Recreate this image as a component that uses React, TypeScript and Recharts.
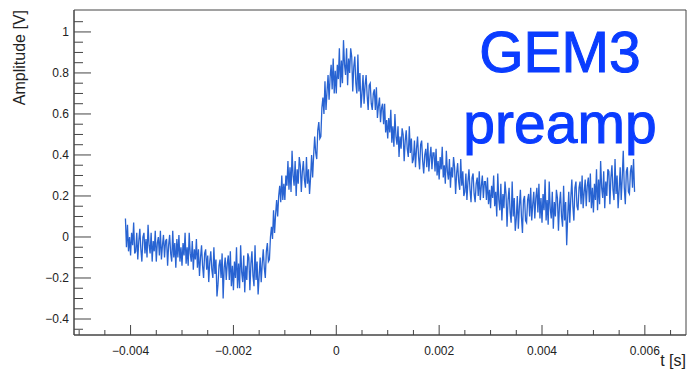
import { LineChart, Line, XAxis, YAxis, ReferenceArea } from 'recharts'

// sampling of the scope trace
const T0 = -0.0041
const DT = 0.00002

// amplitude [V], 10 samples per 0.0002 s
const amplitude = [
  0.09, -0.05, 0.06, -0.07, 0.00, -0.09, 0.02, -0.04, 0.07, -0.08,
  -0.07, 0.02, -0.11, -0.02, 0.04, -0.06, -0.12, 0.00, 0.02, -0.08,
  -0.01, -0.10, 0.06, -0.04, -0.08, 0.02, -0.12, -0.02, -0.07, 0.03,
  -0.12, -0.03, 0.00, -0.09, 0.03, -0.11, -0.04, 0.01, -0.10, -0.02,
  -0.01, -0.14, -0.04, 0.01, -0.08, -0.12, 0.03, -0.10, -0.03, -0.15,
  -0.01, -0.10, 0.01, -0.12, -0.05, -0.14, -0.03, -0.09, 0.02, -0.13,
  -0.05, -0.14, 0.02, -0.08, -0.12, -0.02, -0.16, -0.06, -0.11, -0.01,
  -0.15, -0.06, -0.19, -0.10, -0.04, -0.14, -0.20, -0.08, -0.06, -0.16,
  -0.09, -0.22, -0.12, -0.07, -0.16, -0.20, -0.05, -0.18, -0.11, -0.29,
  -0.23, -0.14, -0.11, -0.20, -0.08, -0.30, -0.15, -0.10, -0.21, -0.13,
  -0.09, -0.21, -0.07, -0.24, -0.14, -0.26, -0.12, -0.20, -0.05, -0.25,
  -0.13, -0.25, -0.04, -0.17, -0.22, -0.09, -0.27, -0.14, -0.21, -0.08,
  -0.10, -0.26, -0.13, -0.07, -0.19, -0.24, -0.04, -0.21, -0.12, -0.28,
  -0.19, -0.10, -0.22, -0.13, -0.06, -0.15, -0.20, -0.07, -0.03, -0.12,
  -0.11, 0.00, 0.05, -0.01, 0.13, 0.02, 0.11, 0.18, 0.10, 0.20,
  0.25, 0.17, 0.30, 0.18, 0.26, 0.18, 0.30, 0.25, 0.37, 0.23,
  0.34, 0.22, 0.42, 0.30, 0.25, 0.37, 0.20, 0.33, 0.26, 0.39,
  0.35, 0.22, 0.32, 0.37, 0.28, 0.24, 0.39, 0.26, 0.33, 0.21,
  0.29, 0.40, 0.29, 0.40, 0.49, 0.41, 0.38, 0.52, 0.56, 0.48,
  0.49, 0.63, 0.68, 0.60, 0.76, 0.62, 0.71, 0.79, 0.67, 0.78,
  0.84, 0.72, 0.87, 0.70, 0.81, 0.70, 0.84, 0.77, 0.92, 0.73,
  0.86, 0.75, 0.96, 0.84, 0.79, 0.92, 0.74, 0.87, 0.80, 0.92,
  0.88, 0.71, 0.83, 0.88, 0.75, 0.70, 0.89, 0.71, 0.80, 0.63,
  0.70, 0.79, 0.65, 0.74, 0.79, 0.69, 0.62, 0.74, 0.75, 0.65,
  0.62, 0.70, 0.72, 0.62, 0.73, 0.58, 0.64, 0.68, 0.56, 0.63,
  0.65, 0.55, 0.65, 0.51, 0.57, 0.48, 0.58, 0.51, 0.62, 0.46,
  0.54, 0.44, 0.60, 0.49, 0.45, 0.54, 0.39, 0.49, 0.43, 0.53,
  0.50, 0.37, 0.47, 0.52, 0.43, 0.39, 0.54, 0.41, 0.48, 0.36,
  0.38, 0.47, 0.34, 0.43, 0.49, 0.39, 0.33, 0.45, 0.47, 0.37,
  0.31, 0.40, 0.43, 0.34, 0.46, 0.32, 0.39, 0.44, 0.33, 0.41,
  0.41, 0.32, 0.43, 0.30, 0.37, 0.28, 0.39, 0.33, 0.44, 0.29,
  0.35, 0.26, 0.42, 0.32, 0.28, 0.38, 0.24, 0.34, 0.29, 0.39,
  0.34, 0.21, 0.31, 0.36, 0.27, 0.23, 0.38, 0.25, 0.32, 0.20,
  0.22, 0.31, 0.18, 0.27, 0.33, 0.23, 0.17, 0.29, 0.31, 0.21,
  0.17, 0.26, 0.29, 0.20, 0.32, 0.18, 0.25, 0.30, 0.19, 0.27,
  0.27, 0.18, 0.29, 0.16, 0.23, 0.14, 0.25, 0.19, 0.30, 0.15,
  0.22, 0.10, 0.31, 0.18, 0.13, 0.26, 0.08, 0.21, 0.14, 0.27,
  0.21, 0.05, 0.18, 0.24, 0.12, 0.07, 0.27, 0.10, 0.19, 0.03,
  0.09, 0.20, 0.04, 0.15, 0.23, 0.10, 0.02, 0.18, 0.20, 0.08,
  0.07, 0.18, 0.21, 0.10, 0.24, 0.08, 0.16, 0.22, 0.09, 0.19,
  0.24, 0.12, 0.26, 0.09, 0.19, 0.07, 0.21, 0.13, 0.28, 0.08,
  0.18, 0.06, 0.27, 0.14, 0.09, 0.22, 0.04, 0.17, 0.10, 0.23,
  0.19, 0.03, 0.16, 0.22, 0.10, 0.05, 0.25, 0.08, 0.17, -0.04,
  0.10, 0.22, 0.07, 0.19, 0.28, 0.15, 0.08, 0.24, 0.27, 0.15,
  0.13, 0.24, 0.27, 0.16, 0.30, 0.14, 0.22, 0.28, 0.15, 0.25,
  0.29, 0.17, 0.31, 0.14, 0.24, 0.12, 0.26, 0.18, 0.33, 0.13,
  0.28, 0.16, 0.37, 0.24, 0.19, 0.32, 0.14, 0.27, 0.20, 0.33,
  0.32, 0.16, 0.29, 0.35, 0.23, 0.18, 0.38, 0.21, 0.30, 0.14,
  0.23, 0.34, 0.18, 0.29, 0.42, 0.24, 0.16, 0.32, 0.34, 0.22,
  0.21, 0.32, 0.35, 0.24, 0.38, 0.22,
]

const xMajorTicks = [-0.004, -0.002, 0, 0.002, 0.004, 0.006]
const xMinorTicks = [-0.005, -0.0045, -0.0035, -0.003, -0.0025, -0.0015, -0.001, -0.0005,
  0.0005, 0.001, 0.0015, 0.0025, 0.003, 0.0035, 0.0045, 0.005, 0.0055, 0.0065]
const yMajorTicks = [-0.4, -0.2, 0, 0.2, 0.4, 0.6, 0.8, 1]
const yMinorTicks = [-0.45, -0.35, -0.3, -0.25, -0.15, -0.1, -0.05, 0.05, 0.1, 0.15,
  0.25, 0.3, 0.35, 0.45, 0.5, 0.55, 0.65, 0.7, 0.75, 0.85, 0.9, 0.95, 1.05]

const X_DOMAIN: [number, number] = [-0.0051, 0.0068]
const Y_DOMAIN: [number, number] = [-0.478, 1.107]

const data = amplitude.map((v, i) => ({ t: T0 + i * DT, v }))

const AXIS = '#444'
const FONT = '"Liberation Sans", Arial, sans-serif'

const fmt = (v: number) => (v < 0 ? '\u2212' + String(-v) : String(v))

const XTick = (props: any) => {
  const { x, y, payload } = props
  const major = xMajorTicks.includes(payload.value)
  return (
    <g>
      <line x1={x} x2={x} y1={y} y2={y - (major ? 10 : 5)} stroke={AXIS} />
      {major && (
        <text x={x} y={y + 20} textAnchor="middle" fontSize={12} fill="#222" fontFamily={FONT}>
          {fmt(payload.value)}
        </text>
      )}
    </g>
  )
}

const YTick = (props: any) => {
  const { x, y, payload } = props
  const major = yMajorTicks.includes(payload.value)
  return (
    <g>
      <line x1={x} x2={x + (major ? 17 : 9)} y1={y} y2={y} stroke={AXIS} />
      {major && (
        <text x={x - 5} y={y + 4} textAnchor="end" fontSize={12} fill="#222" fontFamily={FONT}>
          {fmt(payload.value)}
        </text>
      )}
    </g>
  )
}

export default function App() {
  return (
    <div style={{ position: 'relative', width: 688, height: 372, background: '#fff' }}>
      <style>{'body{margin:0}'}</style>
      <LineChart width={688} height={372} data={data} margin={{ top: 10, right: 2, bottom: 7, left: 14 }}>
        <XAxis
          dataKey="t"
          type="number"
          domain={X_DOMAIN}
          allowDataOverflow
          ticks={[...xMinorTicks, ...xMajorTicks].sort((a, b) => a - b)}
          interval={0}
          tick={<XTick />}
          tickLine={false}
          tickSize={0}
          tickMargin={0}
          height={30}
          stroke={AXIS}
        />
        <YAxis
          type="number"
          domain={Y_DOMAIN}
          allowDataOverflow
          ticks={[...yMinorTicks, ...yMajorTicks].sort((a, b) => a - b)}
          interval={0}
          tick={<YTick />}
          tickLine={false}
          tickSize={0}
          tickMargin={0}
          width={60}
          stroke={AXIS}
        />
        <ReferenceArea
          x1={X_DOMAIN[0]}
          x2={X_DOMAIN[1]}
          y1={Y_DOMAIN[0]}
          y2={Y_DOMAIN[1]}
          fill="none"
          stroke={AXIS}
          fillOpacity={0}
        />
        <Line
          type="linear"
          dataKey="v"
          stroke="#2863d2"
          strokeWidth={1.3}
          dot={false}
          isAnimationActive={false}
        />
      </LineChart>
      <svg
        width={688}
        height={372}
        style={{ position: 'absolute', left: 0, top: 0, pointerEvents: 'none' }}
      >
        <text
          x={25}
          y={10}
          transform="rotate(-90 25 10)"
          textAnchor="end"
          fontSize={16}
          fill="#222"
          fontFamily={FONT}
        >
          Amplitude [V]
        </text>
        <text x={686} y={366} textAnchor="end" fontSize={16} fill="#222" fontFamily={FONT}>
          t [s]
        </text>
        <g fill="#0a3cff" stroke="#0a3cff" strokeWidth={1} fontSize={57} fontFamily={FONT} textAnchor="middle">
          <text x={560} y={72}>GEM3</text>
          <text x={560} y={143}>preamp</text>
        </g>
      </svg>
    </div>
  )
}
